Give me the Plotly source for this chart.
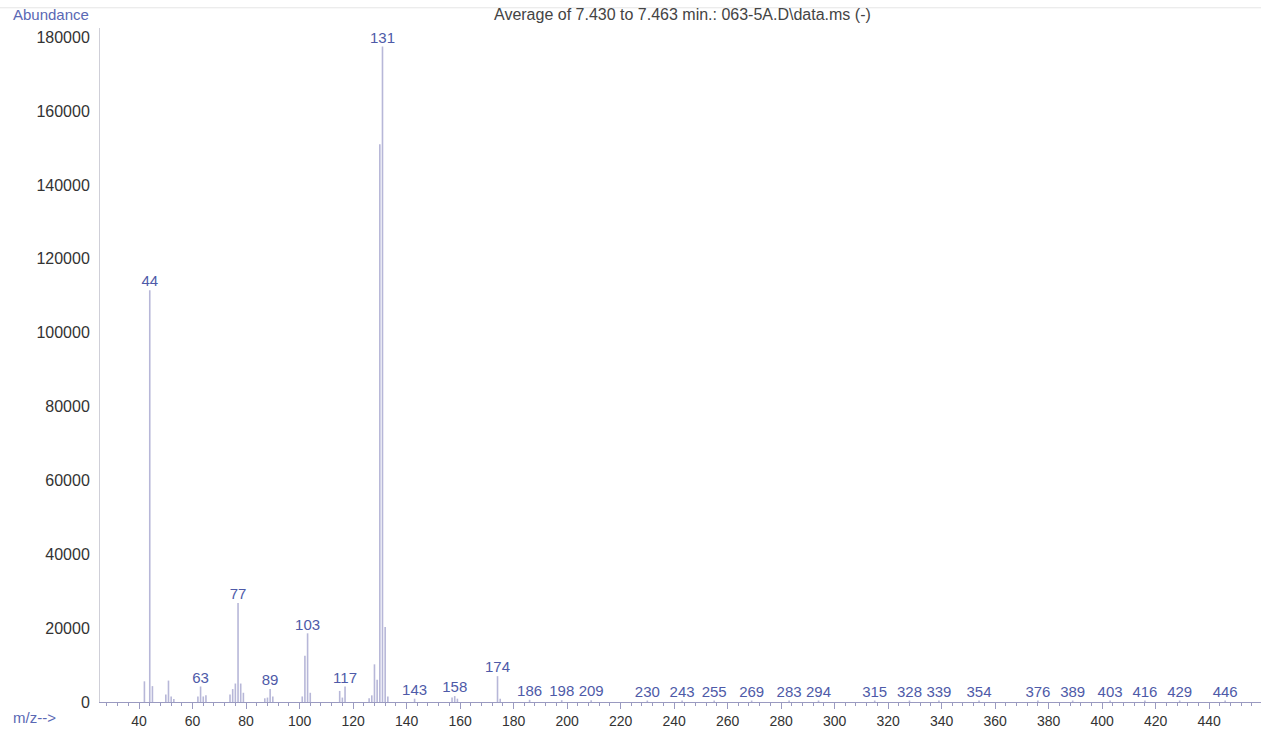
import plotly.graph_objects as go

# ---- data ----
mz = [42, 44, 45, 50, 51, 52, 53, 62, 63, 64, 65, 74, 75, 76, 77, 78, 79,
      87, 88, 89, 90, 101, 102, 103, 104, 115, 116, 117, 126, 127, 128, 129,
      130, 131, 132, 133, 143, 157, 158, 159, 174, 175,
      186, 198, 209, 230, 243, 255, 269, 283, 294, 315, 328, 339, 354,
      376, 389, 403, 416, 429, 446]
abundance = [5600, 111500, 4300, 2000, 5800, 1500, 800, 1500, 4200, 1500, 1800,
             2000, 3500, 5000, 26800, 5000, 2500,
             1000, 1200, 3500, 1500, 1500, 12500, 18600, 2500, 3000, 1200, 4200,
             1000, 1800, 10200, 6000,
             151000, 177500, 20300, 1500, 900, 1200, 1600, 900, 7000, 900,
             600, 500, 500, 400, 400, 400, 400, 400, 400, 400, 400, 400, 400,
             400, 400, 400, 400, 400, 400]
labeled = [44, 63, 77, 89, 103, 117, 131, 143, 158, 174, 186, 198, 209, 230,
           243, 255, 269, 283, 294, 315, 328, 339, 354, 376, 389, 403, 416,
           429, 446]
y_ticks = [0, 20000, 40000, 60000, 80000, 100000, 120000, 140000, 160000, 180000]
y_tick_text = [str(v) for v in y_ticks]
x_ticks = list(range(40, 441, 20))
title_text = "Average of 7.430 to 7.463 min.: 063-5A.D\\data.ms (-)"

# ---- build stick spectrum ----
sx, sy = [], []
for m, a in zip(mz, abundance):
    sx += [m, m, None]
    sy += [0, a, None]

lab_x = [m for m in mz if m in labeled]
lab_y = [a for m, a in zip(mz, abundance) if m in labeled]

LINE_C = "#b7b7d8"
LABEL_C = "#4e5aa8"
FONT = "Liberation Sans, Arial, sans-serif"

fig = go.Figure()
fig.add_trace(go.Scatter(x=sx, y=sy, mode="lines",
                         line=dict(color=LINE_C, width=1.6),
                         hoverinfo="skip", showlegend=False))
fig.add_trace(go.Scatter(x=lab_x, y=lab_y, mode="text",
                         text=[str(m) for m in lab_x],
                         textposition="top center",
                         textfont=dict(family=FONT, size=15, color=LABEL_C),
                         showlegend=False, cliponaxis=False))

fig.update_layout(
    width=1261, height=729,
    margin=dict(l=100, r=0, t=28, b=25),
    paper_bgcolor="white", plot_bgcolor="white",
    font=dict(family=FONT, color="#333333"),
    xaxis=dict(range=[25.4, 459.4], tickvals=x_ticks, ticks="outside",
               ticklen=6, tickcolor="#9a9ac0", showline=True,
               linecolor="#9a9ac0", linewidth=1, showgrid=False,
               zeroline=False, tickfont=dict(size=14, color="#333333"),
               ticklabelstandoff=0,
               minor=dict(dtick=4, tick0=0, ticks="outside", ticklen=3,
                          tickcolor="#9a9ac0", showgrid=False)),
    yaxis=dict(range=[0, 182500], tickvals=y_ticks, ticktext=y_tick_text,
               ticks="", showline=True, linecolor="#cfcfd8", linewidth=1,
               showgrid=False, zeroline=False, ticklabelstandoff=6,
               tickfont=dict(size=16, color="#333333")),
    annotations=[
        dict(text="Abundance", xref="paper", yref="paper", x=-0.077, y=1.005,
             xanchor="left", yanchor="bottom", showarrow=False,
             font=dict(family=FONT, size=15, color="#5a68b4")),
        dict(text="m/z-->", xref="paper", yref="paper", x=-0.077, y=-0.008,
             xanchor="left", yanchor="top", showarrow=False,
             font=dict(family=FONT, size=15, color="#5a68b4")),
        dict(text=title_text, xref="paper", yref="paper", x=0.502, y=1.005,
             xanchor="center", yanchor="bottom", showarrow=False,
             font=dict(family=FONT, size=16, color="#444444")),
    ],
    shapes=[dict(type="line", xref="paper", yref="paper", x0=-0.09, x1=1.0,
                 y0=1.03, y1=1.03, line=dict(color="#e6e6e6", width=1))],
)

fig.write_html("out.html")
